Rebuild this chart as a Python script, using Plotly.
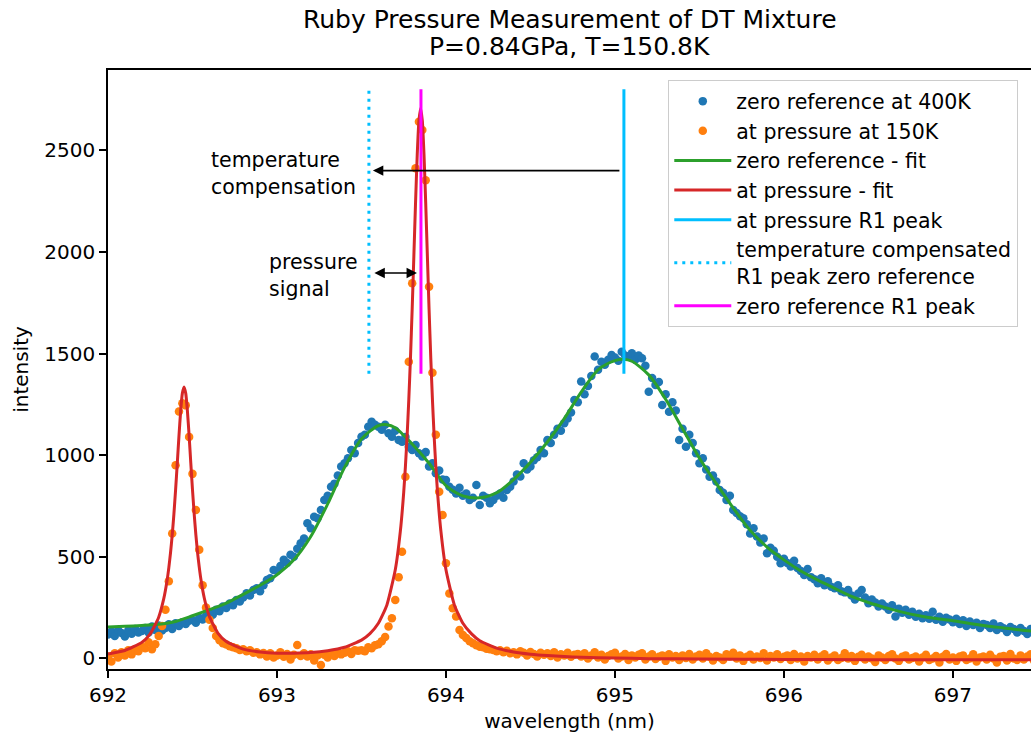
import plotly.graph_objects as go

# ---------------- data ----------------
wavelength = [
    692.00, 692.02, 692.04, 692.06, 692.08, 692.10, 692.12, 692.14, 692.16, 692.18,
    692.20, 692.22, 692.24, 692.26, 692.28, 692.30, 692.32, 692.34, 692.36, 692.38,
    692.40, 692.42, 692.44, 692.46, 692.48, 692.50, 692.52, 692.54, 692.56, 692.58,
    692.60, 692.62, 692.64, 692.66, 692.68, 692.70, 692.72, 692.74, 692.76, 692.78,
    692.80, 692.82, 692.84, 692.86, 692.88, 692.90, 692.92, 692.94, 692.96, 692.98,
    693.00, 693.02, 693.04, 693.06, 693.08, 693.10, 693.12, 693.14, 693.16, 693.18,
    693.20, 693.22, 693.24, 693.26, 693.28, 693.30, 693.32, 693.34, 693.36, 693.38,
    693.40, 693.42, 693.44, 693.46, 693.48, 693.50, 693.52, 693.54, 693.56, 693.58,
    693.60, 693.62, 693.64, 693.66, 693.68, 693.70, 693.72, 693.74, 693.76, 693.78,
    693.80, 693.82, 693.84, 693.86, 693.88, 693.90, 693.92, 693.94, 693.96, 693.98,
    694.00, 694.02, 694.04, 694.06, 694.08, 694.10, 694.12, 694.14, 694.16, 694.18,
    694.20, 694.22, 694.24, 694.26, 694.28, 694.30, 694.32, 694.34, 694.36, 694.38,
    694.40, 694.42, 694.44, 694.46, 694.48, 694.50, 694.52, 694.54, 694.56, 694.58,
    694.60, 694.62, 694.64, 694.66, 694.68, 694.70, 694.72, 694.74, 694.76, 694.78,
    694.80, 694.82, 694.84, 694.86, 694.88, 694.90, 694.92, 694.94, 694.96, 694.98,
    695.00, 695.02, 695.04, 695.06, 695.08, 695.10, 695.12, 695.14, 695.16, 695.18,
    695.20, 695.22, 695.24, 695.26, 695.28, 695.30, 695.32, 695.34, 695.36, 695.38,
    695.40, 695.42, 695.44, 695.46, 695.48, 695.50, 695.52, 695.54, 695.56, 695.58,
    695.60, 695.62, 695.64, 695.66, 695.68, 695.70, 695.72, 695.74, 695.76, 695.78,
    695.80, 695.82, 695.84, 695.86, 695.88, 695.90, 695.92, 695.94, 695.96, 695.98,
    696.00, 696.02, 696.04, 696.06, 696.08, 696.10, 696.12, 696.14, 696.16, 696.18,
    696.20, 696.22, 696.24, 696.26, 696.28, 696.30, 696.32, 696.34, 696.36, 696.38,
    696.40, 696.42, 696.44, 696.46, 696.48, 696.50, 696.52, 696.54, 696.56, 696.58,
    696.60, 696.62, 696.64, 696.66, 696.68, 696.70, 696.72, 696.74, 696.76, 696.78,
    696.80, 696.82, 696.84, 696.86, 696.88, 696.90, 696.92, 696.94, 696.96, 696.98,
    697.00, 697.02, 697.04, 697.06, 697.08, 697.10, 697.12, 697.14, 697.16, 697.18,
    697.20, 697.22, 697.24, 697.26, 697.28, 697.30, 697.32, 697.34, 697.36, 697.38,
    697.40, 697.42, 697.44, 697.46, 697.48,
]

zero_ref_400K = [
    118, 132, 110, 140, 125, 108, 138, 122, 145, 128,
    135, 150, 128, 157, 140, 162, 138, 150, 168, 145,
    173, 160, 178, 170, 185, 189, 175, 200, 192, 210,
    222, 215, 240, 232, 255, 248, 270, 262, 288, 280,
    300, 321, 310, 337, 345, 330, 360, 386, 395, 435,
    430, 455, 485, 470, 510, 500, 540, 567, 590, 665,
    640, 697, 690, 730, 780, 800, 845, 860, 900, 944,
    960, 985, 1026, 1010, 1060, 1091, 1100, 1140, 1165, 1150,
    1140, 1125, 1150, 1108, 1091, 1120, 1075, 1066, 1090, 1042,
    1026, 1050, 1009, 993, 1015, 944, 960, 911, 925, 880,
    878, 845, 830, 812, 840, 800, 812, 780, 790, 853,
    755, 800, 790, 763, 780, 800, 812, 790, 829, 845,
    870, 905, 895, 960, 930, 944, 975, 990, 1026, 1010,
    1075, 1060, 1100, 1130, 1120, 1157, 1180, 1210, 1272, 1260,
    1362, 1300, 1340, 1390, 1485, 1420, 1460, 1445, 1470, 1493,
    1480, 1465, 1509, 1490, 1485, 1501, 1470, 1490, 1477, 1440,
    1312, 1380, 1345, 1360, 1247, 1300, 1214, 1260, 1220, 1075,
    1130, 1042, 1100, 1060, 1010, 960, 985, 930, 894, 900,
    870, 829, 815, 780, 800, 730, 715, 700, 690, 660,
    615, 640, 600, 570, 590, 517, 545, 530, 500, 468,
    490, 470, 452, 480, 445, 430, 410, 440, 400, 390,
    370, 395, 360, 380, 353, 345, 360, 330, 325, 337,
    310, 290, 320, 337, 300, 271, 290, 275, 255, 270,
    255, 240, 262, 206, 245, 225, 240, 215, 230, 205,
    220, 198, 212, 195, 230, 190, 205, 180, 200, 192,
    178, 195, 170, 188, 160, 182, 165, 175, 150, 170,
    165, 150, 172, 140, 158, 148, 130, 155, 145, 128,
    150, 135, 120, 145, 130,
]

at_pressure_150K = [
    10, -15, 25, 5, 30, 15, 40, 20, 45, 35,
    60, 50, 80, 45, 70, 110, 160, 240, 380, 615,
    950, 1215, 1255, 1245, 1090, 908, 730, 535, 360, 250,
    190, 150, 110, 90, 75, 68, 60, 55, 50, 42,
    45, 35, 40, 28, 30, 20, 27, 10, 25, 5,
    15, 30, 8, 22, -5, 18, 66, 12, 25, 10,
    20, -10, 15, -32, 18, 5, 25, 12, 30, 20,
    28, 35, 22, 40, 38, 40, 35, 55, 50, 65,
    70, 85, 105, 157, 198, 288, 400, 525, 894, 1460,
    1846, 2412, 2640, 2600, 2353, 1829, 1406, 1100, 820, 706,
    468, 320, 247, 206, 140, 115, 100, 85, 75, 65,
    58, 55, 48, 45, 42, 35, 40, 30, 38, 25,
    30, 20, 35, 28, 15, 32, 22, 10, 28, 18,
    25, 12, 30, 5, 20, 15, 28, 8, 18, 22,
    10, 25, 0, 15, 30, 5, 18, -5, 12, 20,
    28, 0, 10, 22, -8, 15, 5, 18, 25, -5,
    10, 20, -3, 8, 15, -12, 20, 5, 12, -8,
    15, 2, 22, -5, 10, 18, 0, 25, 8, -10,
    12, 5, -8, 20, 10, 28, 0, 15, -12, 8,
    18, -5, 10, 2, 25, -10, 12, 5, 20, -3,
    8, 15, -8, 22, 0, 10, -15, 12, 5, 18,
    -5, 10, 20, -10, 5, 15, -8, 2, 25, 0,
    12, -12, 8, 18, -5, 10, 0, -18, 15, 5,
    -8, 12, 20, 0, -12, 8, 15, -5, 2, 10,
    -15, 5, 18, -8, 0, 12, -20, 8, 22, -5,
    5, -12, 10, 15, -8, 0, 20, -15, 5, 10,
    -5, 18, 0, -20, 8, 12, -10, 22, 0, -8,
    15, -5, 10, 20, -12,
]

zero_fit_wavelength = [
    692.00, 692.10, 692.20, 692.30, 692.40, 692.50, 692.60, 692.70, 692.80, 692.90,
    693.00, 693.10, 693.20, 693.30, 693.40, 693.50, 693.60, 693.65, 693.70, 693.80,
    693.90, 694.00, 694.10, 694.20, 694.30, 694.40, 694.50, 694.60, 694.70, 694.80,
    694.90, 695.00, 695.05, 695.10, 695.20, 695.30, 695.40, 695.50, 695.60, 695.70,
    695.80, 695.90, 696.00, 696.10, 696.20, 696.30, 696.40, 696.50, 696.60, 696.70,
    696.80, 696.90, 697.00, 697.10, 697.20, 697.30, 697.40, 697.48,
]
zero_fit = [
    155, 158, 162, 168, 182, 210, 240, 272, 315, 360,
    412, 485, 600, 760, 940, 1080, 1145, 1150, 1135, 1055,
    960, 850, 800, 790, 815, 880, 965, 1065, 1180, 1310,
    1420, 1465, 1472, 1462, 1395, 1275, 1130, 985, 860, 740,
    630, 548, 485, 430, 385, 345, 305, 275, 250, 228,
    210, 196, 185, 172, 160, 150, 140, 134,
]

pressure_fit_wavelength = [
    692.00, 692.10, 692.20, 692.25, 692.30, 692.33, 692.35, 692.36, 692.37, 692.38,
    692.39, 692.40, 692.41, 692.42, 692.43, 692.44, 692.45, 692.46, 692.47, 692.48,
    692.49, 692.50, 692.51, 692.52, 692.53, 692.54, 692.55, 692.57, 692.60, 692.65,
    692.70, 692.80, 692.90, 693.00, 693.10, 693.20, 693.30, 693.40, 693.50, 693.55,
    693.60, 693.65, 693.70, 693.73, 693.75, 693.76, 693.77, 693.78, 693.79, 693.80,
    693.81, 693.82, 693.83, 693.84, 693.85, 693.86, 693.87, 693.88, 693.89, 693.90,
    693.91, 693.92, 693.93, 693.94, 693.95, 693.97, 694.00, 694.05, 694.10, 694.15,
    694.20, 694.30, 694.40, 694.50, 694.60, 694.70, 694.80, 695.00, 695.20, 695.50,
    696.00, 696.50, 697.00, 697.48,
]
pressure_fit = [
    22, 39, 79, 121, 203, 294, 386, 447, 520, 607,
    710, 829, 960, 1095, 1217, 1304, 1336, 1304, 1217, 1096,
    961, 830, 711, 608, 521, 449, 388, 296, 206, 125,
    83, 46, 32, 26, 26, 29, 38, 55, 90, 122,
    173, 262, 436, 626, 818, 944, 1094, 1272, 1480, 1718,
    1979, 2243, 2479, 2646, 2707, 2646, 2479, 2243, 1979, 1718,
    1480, 1272, 1094, 944, 818, 626, 436, 262, 173, 122,
    87, 51, 32, 21, 14, 9, 6, 2, -1, -3,
    -5, -6, -7, -7,
]

# R1 peak positions (nm) and the intensity span of their marker lines
r1_pressure = 695.053
r1_temp_compensated = 693.544
r1_zero_reference = 693.852
r1_line_span = [1400, 2800]

# annotation levels (intensity)
temp_arrow_level = 2400
pressure_arrow_level = 1896
temp_label_pos = (692.60, 2388)
pressure_label_pos = (692.94, 1885)

x_ticks = [692, 693, 694, 695, 696, 697]
y_ticks = [0, 500, 1000, 1500, 2000, 2500]

title_lines = ["Ruby Pressure Measurement of DT Mixture", "P=0.84GPa, T=150.8K"]

for name, arr in [("zero", zero_ref_400K), ("press", at_pressure_150K)]:
    assert len(arr) == len(wavelength), (name, len(arr), len(wavelength))
assert len(zero_fit) == len(zero_fit_wavelength)
assert len(pressure_fit) == len(pressure_fit_wavelength)

# ---------------- figure ----------------
FONT = "DejaVu Sans"
fig = go.Figure()

fig.add_trace(go.Scatter(
    x=wavelength, y=zero_ref_400K, mode="markers", name="zero reference at 400K",
    marker=dict(color="#1f77b4", size=8.5, line=dict(width=0))))
fig.add_trace(go.Scatter(
    x=wavelength, y=at_pressure_150K, mode="markers", name="at pressure at 150K",
    marker=dict(color="#ff7f0e", size=8.5, line=dict(width=0))))
fig.add_trace(go.Scatter(
    x=zero_fit_wavelength, y=zero_fit, mode="lines", name="zero reference - fit",
    line=dict(color="#2ca02c", width=3, shape="spline", smoothing=0.8)))
fig.add_trace(go.Scatter(
    x=pressure_fit_wavelength, y=pressure_fit, mode="lines", name="at pressure - fit",
    line=dict(color="#d62728", width=3, shape="spline", smoothing=0.5)))
fig.add_trace(go.Scatter(
    x=[r1_pressure, r1_pressure], y=r1_line_span, mode="lines", name="at pressure R1 peak",
    line=dict(color="#00bfff", width=3)))
fig.add_trace(go.Scatter(
    x=[r1_temp_compensated, r1_temp_compensated], y=r1_line_span, mode="lines",
    name="temperature compensated<br>R1 peak zero reference",
    line=dict(color="#00bfff", width=3, dash="3px,5px")))
fig.add_trace(go.Scatter(
    x=[r1_zero_reference, r1_zero_reference], y=r1_line_span, mode="lines",
    name="zero reference R1 peak",
    line=dict(color="#ff00ff", width=3)))

# arrows
fig.add_annotation(
    x=r1_temp_compensated, y=temp_arrow_level, ax=r1_pressure, ay=temp_arrow_level,
    xref="x", yref="y", axref="x", ayref="y", text="", showarrow=True,
    arrowhead=2, arrowsize=1.3, arrowwidth=1.6, arrowcolor="black",
    standoff=4, startstandoff=3)
fig.add_annotation(
    x=r1_zero_reference, y=pressure_arrow_level, ax=r1_temp_compensated, ay=pressure_arrow_level,
    xref="x", yref="y", axref="x", ayref="y", text="", showarrow=True,
    arrowhead=2, startarrowhead=2, arrowside="end+start",
    arrowsize=1.3, startarrowsize=1.3, arrowwidth=1.6, arrowcolor="black",
    standoff=4, startstandoff=4)

fig.add_annotation(
    x=temp_label_pos[0], y=temp_label_pos[1], xref="x", yref="y",
    text="temperature<br>compensation", showarrow=False, align="left",
    xanchor="left", yanchor="middle", font=dict(family=FONT, size=20.5, color="black"))
fig.add_annotation(
    x=pressure_label_pos[0], y=pressure_label_pos[1], xref="x", yref="y",
    text="pressure<br>signal", showarrow=False, align="left",
    xanchor="left", yanchor="middle", font=dict(family=FONT, size=20.5, color="black"))

# title (two centred lines above the plot area)
fig.add_annotation(
    x=0.5, y=1.0835, xref="paper", yref="paper", text=title_lines[0], showarrow=False,
    xanchor="center", yanchor="middle", font=dict(family=FONT, size=25, color="black"))
fig.add_annotation(
    x=0.5, y=1.0384, xref="paper", yref="paper", text=title_lines[1], showarrow=False,
    xanchor="center", yanchor="middle", font=dict(family=FONT, size=25, color="black"))

axis_common = dict(
    showgrid=False, zeroline=False, showline=True, linecolor="black", linewidth=1.6,
    ticks="outside", ticklen=7, tickwidth=1.6, tickcolor="black",
    tickfont=dict(family=FONT, size=20, color="black"),
)

fig.update_layout(
    width=1031, height=733,
    margin=dict(l=108, r=0, t=70, b=64),
    paper_bgcolor="white", plot_bgcolor="white",
    font=dict(family=FONT, size=20, color="black"),
    xaxis=dict(range=[692, 697.462], tickvals=x_ticks, mirror=True,
               title=dict(text="wavelength (nm)", font=dict(family=FONT, size=20), standoff=8),
               **axis_common),
    yaxis=dict(range=[-52, 2895], tickvals=y_ticks,
               title=dict(text="intensity", font=dict(family=FONT, size=20), standoff=10),
               **axis_common),
    legend=dict(
        x=0.6067, y=0.9833, xanchor="left", yanchor="top",
        bgcolor="rgba(255,255,255,0.85)", bordercolor="#cccccc", borderwidth=1.3,
        font=dict(family=FONT, size=20.5, color="black"),
        tracegroupgap=0, itemwidth=57),
    showlegend=True,
)

fig.write_html("out.html")
